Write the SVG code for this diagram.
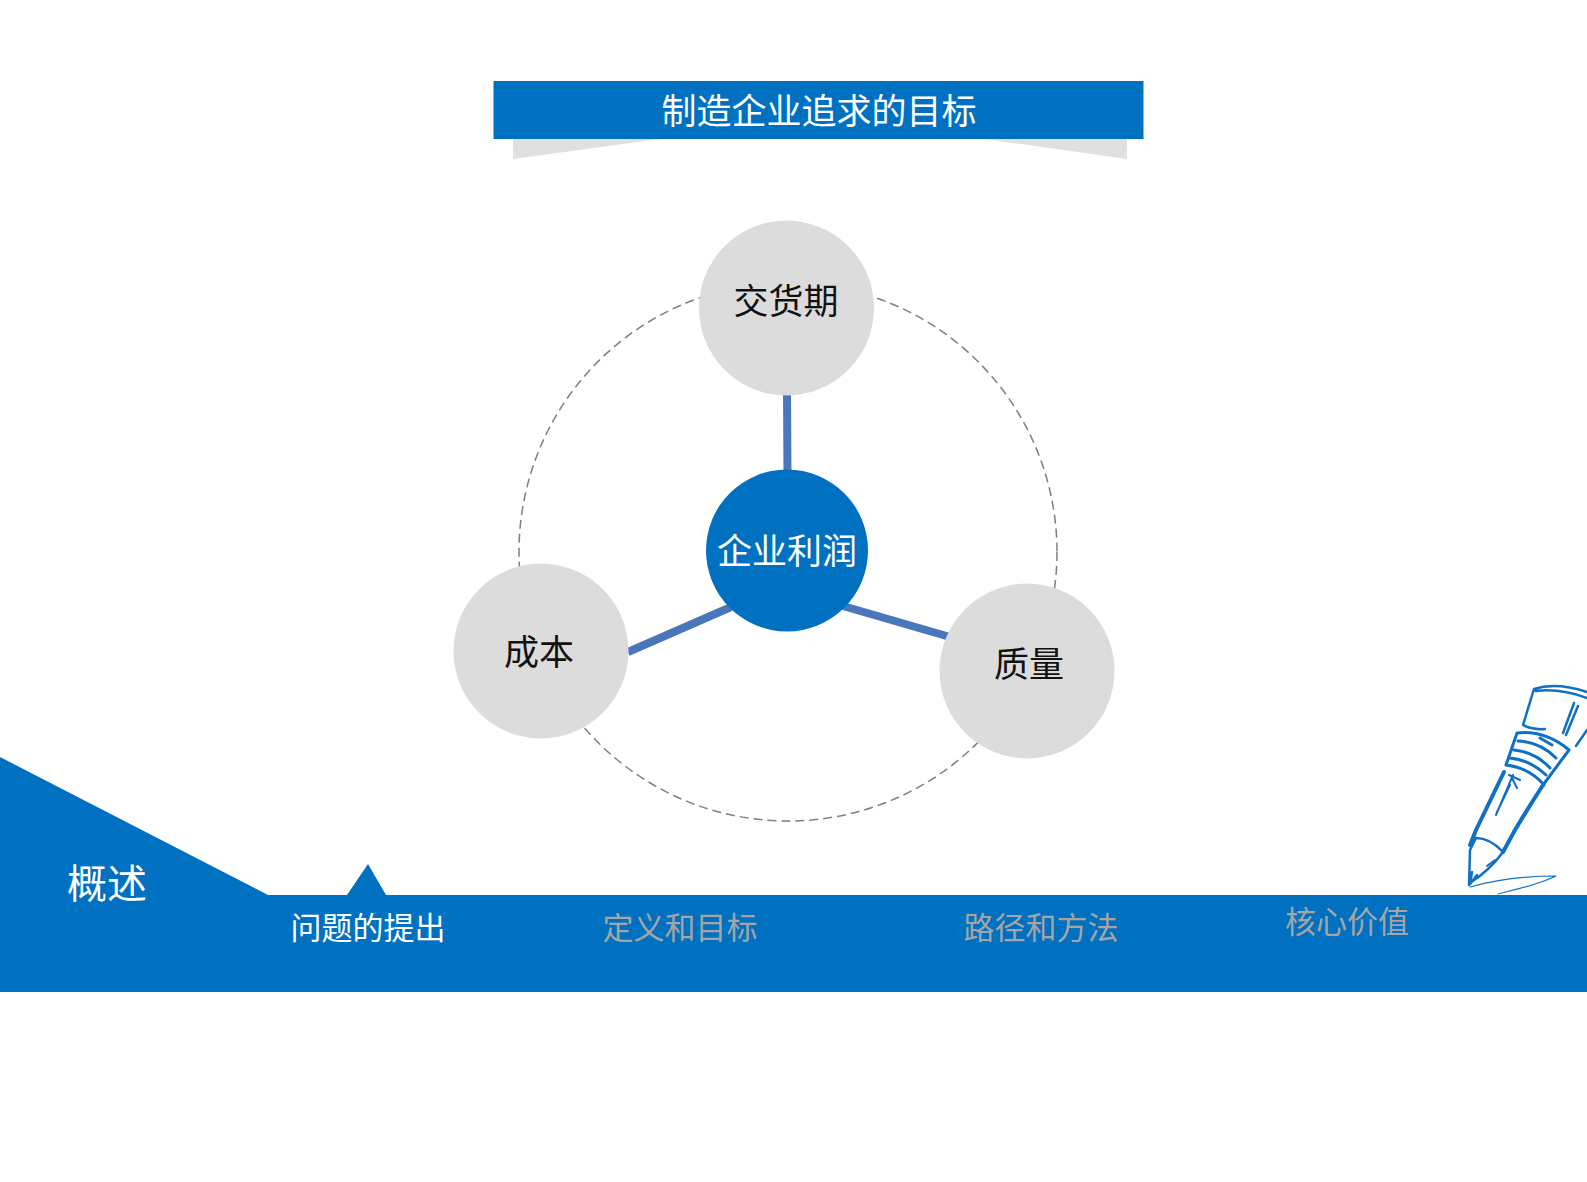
<svg xmlns="http://www.w3.org/2000/svg" width="1587" height="1182" viewBox="0 0 1587 1182">
<style>
text{font-family:"Noto Sans CJK SC","Noto Sans",sans-serif;text-anchor:middle}
.w{fill:#fff}.k{fill:#111}.g{fill:#a5a5a5}
.c{fill:#dcdcdc}.l{stroke:#4a76bb;stroke-width:8;fill:none}
.p{fill:none;stroke:#0f70c4;stroke-linecap:round;stroke-linejoin:round}
</style>
<rect width="1587" height="1182" fill="#fff"/>
<g id="banner">
<path d="M513 139H660L513 159ZM1127 139H985L1127 159Z" fill="#e0e0e0"/>
<rect x="493.500" y="81" width="650" height="58" fill="#0070c0"/>
<text x="819" y="124" font-size="35" class="w">制造企业追求的目标</text>
</g>
<g id="connectors">
<circle cx="788" cy="552" r="269" fill="none" stroke="#7f7f7f" stroke-width="1.500" stroke-dasharray="9 5"/>
<path class="l" d="M787 390L787.500 475M731 607L628 652M843 606L950 637"/>
</g>
<g id="node-jiaohuoqi"><circle class="c" cx="786.500" cy="308" r="87.500"/><text x="786" y="314" font-size="35" class="k">交货期</text></g>
<g id="node-chengben"><circle class="c" cx="541" cy="651" r="87.500"/><text x="539" y="665" font-size="35" class="k">成本</text></g>
<g id="node-zhiliang"><circle class="c" cx="1027" cy="671" r="87.500"/><text x="1029" y="677" font-size="35" class="k">质量</text></g>
<g id="node-center"><circle cx="787" cy="550.500" r="81" fill="#0070c0"/><text x="787" y="564" font-size="35" class="w">企业利润</text></g>
<g id="footer">
<path d="M0 757L268 895H347L368 864L386 895H1587V992H0Z" fill="#0070c0"/>
<text x="107" y="898" font-size="40" class="w">概述</text>
<text x="368" y="939" font-size="31" class="w">问题的提出</text>
<text x="680" y="939" font-size="31" class="g">定义和目标</text>
<text x="1041" y="939" font-size="31" class="g">路径和方法</text>
<text x="1347" y="933" font-size="31" class="g">核心价值</text>
</g>
<g id="pen">
<path class="p" stroke-width="2.500" d="M1534 689Q1556 682 1587 692M1536 691Q1560 688 1587 698M1534 689L1523 725Q1532 730 1545 729M1529 705L1524 722M1574 703L1563 733M1578 706L1566 735M1587 730L1576 746"/>
<path class="p" stroke-width="3" d="M1517 733Q1545 730 1569 750L1543 785M1517 733L1506 765Q1530 768 1544 785M1518 741Q1540 742 1556 758M1514 750Q1535 752 1550 768M1510 758Q1530 760 1546 775M1540 738L1552 745"/>
<path class="p" stroke-width="4" d="M1504 772L1476 830L1470 845M1543 785Q1530 805 1515 830L1503 852"/>
<path class="p" stroke-width="2" d="M1509 775L1520 780M1513 775L1496 815M1512 778L1517 788M1510 785L1497 812M1534 800L1513 832"/>
<path class="p" stroke-width="2.500" d="M1476 838Q1490 838 1503 852Q1490 870 1470 883M1476 838L1470 850L1469 885M1472 872L1470 884L1477 875"/>
<path class="p" stroke-width="2" d="M1495 860L1487 866"/>
<path class="p" stroke-width="1.200" d="M1470 887Q1510 876 1556 876Q1540 884 1498 894"/>
</g>
</svg>
